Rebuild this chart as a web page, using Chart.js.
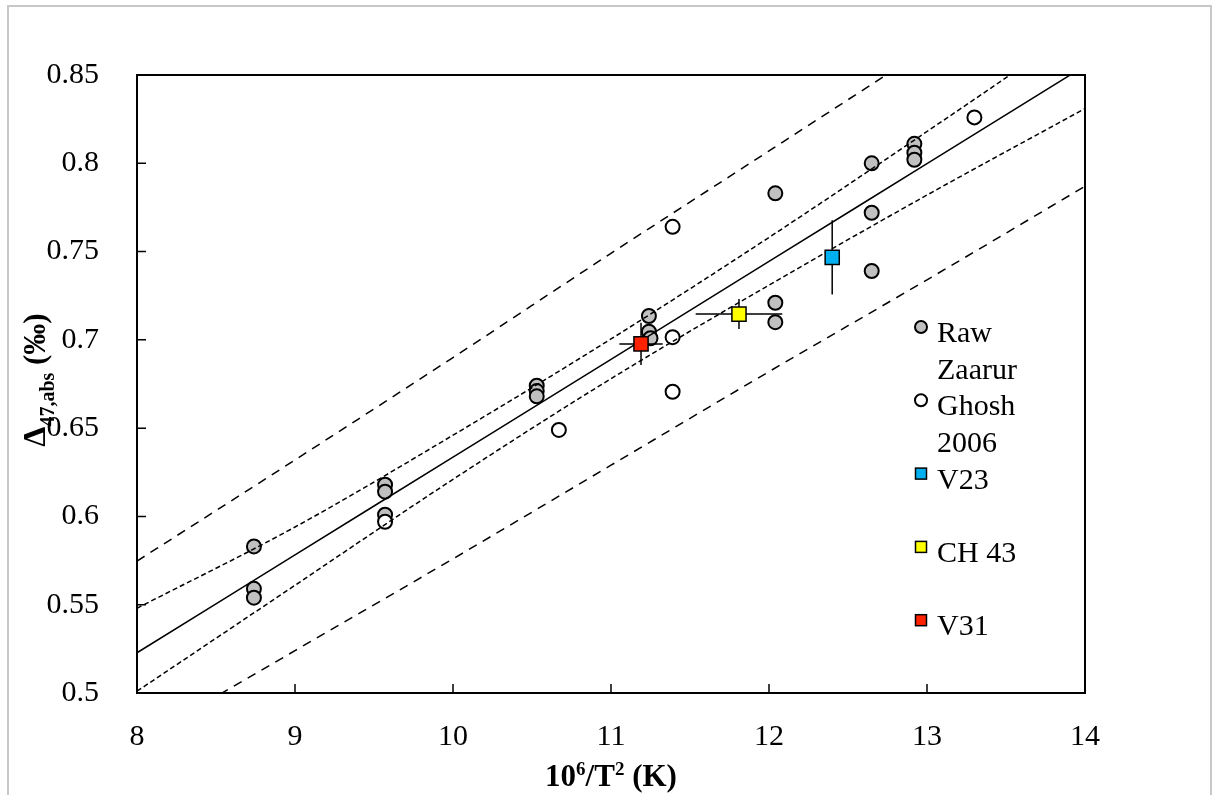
<!DOCTYPE html>
<html>
<head>
<meta charset="utf-8">
<script src="https://cdn.jsdelivr.net/npm/chart.js@4"></script>
<style>
  body { margin: 0; background: #fff; }
  #wrap { position: relative; width: 1218px; height: 795px; overflow: hidden; }
  #frame { position: absolute; left: 7px; top: 5px; width: 1205px; height: 810px; border: 2px solid #c8c8c8; box-sizing: border-box; }
  canvas { position: absolute; left: 0; top: 0; }
</style>
</head>
<body>
<div id="wrap">
  <div id="frame"></div>
  <canvas id="chart" width="1218" height="795"></canvas>
</div>
<script>
const xTicks = [8, 9, 10, 11, 12, 13, 14];
const yTicks = [0.5, 0.55, 0.6, 0.65, 0.7, 0.75, 0.8, 0.85];

// Raw Zaarur (grey circles)
const rawX = [8.74, 8.74, 8.74, 9.57, 9.57, 9.57, 10.53, 10.53, 10.53, 11.24, 11.24, 11.25, 12.04, 12.04, 12.04, 12.65, 12.65, 12.65, 12.92, 12.92, 12.92];
const rawY = [0.583, 0.559, 0.554, 0.618, 0.614, 0.601, 0.674, 0.671, 0.668, 0.7135, 0.7046, 0.7009, 0.783, 0.721, 0.710, 0.800, 0.772, 0.739, 0.811, 0.806, 0.802];

// Ghosh 2006 (open circles)
const ghoshX = [9.57, 10.67, 11.39, 11.39, 11.39, 13.30];
const ghoshY = [0.597, 0.649, 0.764, 0.7015, 0.6706, 0.826];

// samples with error bars
const sampleNames = ['V23', 'CH 43', 'V31'];
const sampleX = [12.40, 11.81, 11.19];
const sampleY = [0.7467, 0.7146, 0.6977];
const sampleErrX = [0, 0.274, 0.137];
const sampleErrY = [0.021, 0.0085, 0.012];
const sampleColors = ['#00b0f0', '#ffff00', '#ff2200'];

// regression line and bands
const lineX = [8, 9, 10, 11, 12, 13, 14];
const fitY = [0.5228, 0.5782, 0.6336, 0.689, 0.7444, 0.7998, 0.8552];
const confHiY = [0.548, 0.594, 0.646, 0.7005, 0.758, 0.818, 0.879];
const confLoY = [0.501, 0.561, 0.621, 0.678, 0.731, 0.782, 0.831];
const predHiY = [0.5747, 0.632, 0.690, 0.749, 0.807, 0.865, 0.923];
const predLoY = [0.472, 0.524, 0.576, 0.629, 0.682, 0.734, 0.787];

const legendLabels = [['Raw', 'Zaarur'], ['Ghosh', '2006'], ['V23'], ['CH 43'], ['V31']];

const serif = "'Liberation Serif', 'Times New Roman', serif";
Chart.defaults.font.family = serif;
Chart.defaults.color = '#000';

const pts = (xs, ys) => xs.map((x, i) => ({ x: x, y: ys[i] }));

const lineSet = (ys, dash) => ({
  type: 'line', data: pts(lineX, ys), borderColor: '#000', borderWidth: 1.5,
  borderDash: dash, pointRadius: 0, fill: false, clip: 0, order: 5,
  cubicInterpolationMode: 'monotone'
});

const datasets = [
  { label: 'Raw Zaarur', data: pts(rawX, rawY), pointRadius: 7, pointBackgroundColor: '#c0c0c0',
    pointBorderColor: '#000', pointBorderWidth: 2, order: 10 },
  { label: 'Ghosh 2006', data: pts(ghoshX, ghoshY), pointRadius: 7, pointBackgroundColor: '#fff',
    pointBorderColor: '#000', pointBorderWidth: 2, order: 9 },
  lineSet(fitY, []),
  lineSet(confHiY, [5, 3]),
  lineSet(confLoY, [5, 3]),
  lineSet(predHiY, [9, 7]),
  lineSet(predLoY, [9, 7])
];
sampleNames.forEach((n, i) => {
  datasets.push({ label: n, data: [{ x: sampleX[i], y: sampleY[i] }], pointStyle: 'rect', pointRadius: 10,
    pointBackgroundColor: sampleColors[i], pointBorderColor: '#000', pointBorderWidth: 1.5, order: 2 - i });
});

function richText(ctx, parts, cx, cy) {
  let total = 0;
  parts.forEach(p => { ctx.font = 'bold ' + p[1] + 'px ' + serif; total += ctx.measureText(p[0]).width; });
  let x = cx - total / 2;
  parts.forEach(p => {
    ctx.font = 'bold ' + p[1] + 'px ' + serif;
    ctx.fillText(p[0], x, cy + p[2]);
    x += ctx.measureText(p[0]).width;
  });
}

const decor = {
  id: 'decor',
  beforeDatasetDraw(chart, args) {
    if (chart.data.datasets[args.index].label !== 'V23') return;
    const ctx = chart.ctx, xs = chart.scales.x, ys = chart.scales.y;
    ctx.save();
    ctx.strokeStyle = '#000';
    ctx.lineWidth = 1.5;
    sampleX.forEach((v, i) => {
      const px = xs.getPixelForValue(v), py = ys.getPixelForValue(sampleY[i]);
      ctx.beginPath();
      if (sampleErrX[i] > 0) {
        ctx.moveTo(xs.getPixelForValue(v - sampleErrX[i]), py);
        ctx.lineTo(xs.getPixelForValue(v + sampleErrX[i]), py);
      }
      ctx.moveTo(px, ys.getPixelForValue(sampleY[i] + sampleErrY[i]));
      ctx.lineTo(px, ys.getPixelForValue(sampleY[i] - sampleErrY[i]));
      ctx.stroke();
    });
    ctx.restore();
  },
  afterDraw(chart) {
    const ctx = chart.ctx, a = chart.chartArea, xs = chart.scales.x, ys = chart.scales.y;
    ctx.save();
    ctx.strokeStyle = '#000';
    ctx.lineWidth = 2;
    ctx.strokeRect(a.left, a.top, a.right - a.left, a.bottom - a.top);
    ctx.lineWidth = 1.5;
    ctx.beginPath();
    xTicks.forEach(v => {
      const px = xs.getPixelForValue(v);
      ctx.moveTo(px, a.bottom); ctx.lineTo(px, a.bottom - 9);
    });
    yTicks.forEach(v => {
      const py = ys.getPixelForValue(v);
      ctx.moveTo(a.left, py); ctx.lineTo(a.left + 9, py);
    });
    ctx.stroke();

    // axis titles
    ctx.fillStyle = '#000';
    ctx.textAlign = 'left';
    ctx.textBaseline = 'alphabetic';
    richText(ctx, [['10', 31, 0], ['6', 19, -11], ['/T', 31, 0], ['2', 19, -11], [' (K)', 31, 0]], (a.left + a.right) / 2, 786);
    ctx.save();
    ctx.translate(45, 380);
    ctx.rotate(-Math.PI / 2);
    richText(ctx, [['\u0394', 32, 0], ['47,abs', 20, 9], [' (\u2030)', 31, 0]], 0, 0);
    ctx.restore();

    // legend
    ctx.font = '30px ' + serif;
    legendLabels.forEach((lines, i) => {
      const base = 342 + i * 73.3;
      const my = base - 15;
      ctx.lineWidth = 2;
      if (i < 2) {
        ctx.beginPath();
        ctx.arc(921, my, 6, 0, Math.PI * 2);
        ctx.fillStyle = i === 0 ? '#c0c0c0' : '#fff';
        ctx.fill();
        ctx.stroke();
      } else {
        ctx.lineWidth = 1.5;
        ctx.fillStyle = sampleColors[i - 2];
        ctx.fillRect(915.5, my - 5.5, 11, 11);
        ctx.strokeRect(915.5, my - 5.5, 11, 11);
      }
      ctx.fillStyle = '#000';
      lines.forEach((t, j) => ctx.fillText(t, 937, base + j * 36.5));
    });
    ctx.restore();
  }
};

new Chart(document.getElementById('chart'), {
  type: 'scatter',
  data: { datasets: datasets },
  options: {
    responsive: false,
    animation: false,
    devicePixelRatio: 1,
    layout: { padding: { left: 0, right: 133, top: 75, bottom: 0 } },
    plugins: { legend: { display: false }, tooltip: { enabled: false } },
    scales: {
      x: {
        type: 'linear', min: 8, max: 14,
        grid: { display: false }, border: { display: false },
        afterBuildTicks: s => { s.ticks = xTicks.map(v => ({ value: v })); },
        afterFit: s => { s.height = 102; },
        ticks: { font: { size: 30 }, color: '#000', padding: 18, maxRotation: 0 }
      },
      y: {
        type: 'linear', min: 0.5, max: 0.85,
        grid: { display: false }, border: { display: false },
        afterBuildTicks: s => { s.ticks = yTicks.map(v => ({ value: v })); },
        afterFit: s => { s.width = 137; },
        ticks: { font: { size: 30 }, color: '#000', padding: 30, callback: v => String(v) }
      }
    }
  },
  plugins: [decor]
});
</script>
</body>
</html>
